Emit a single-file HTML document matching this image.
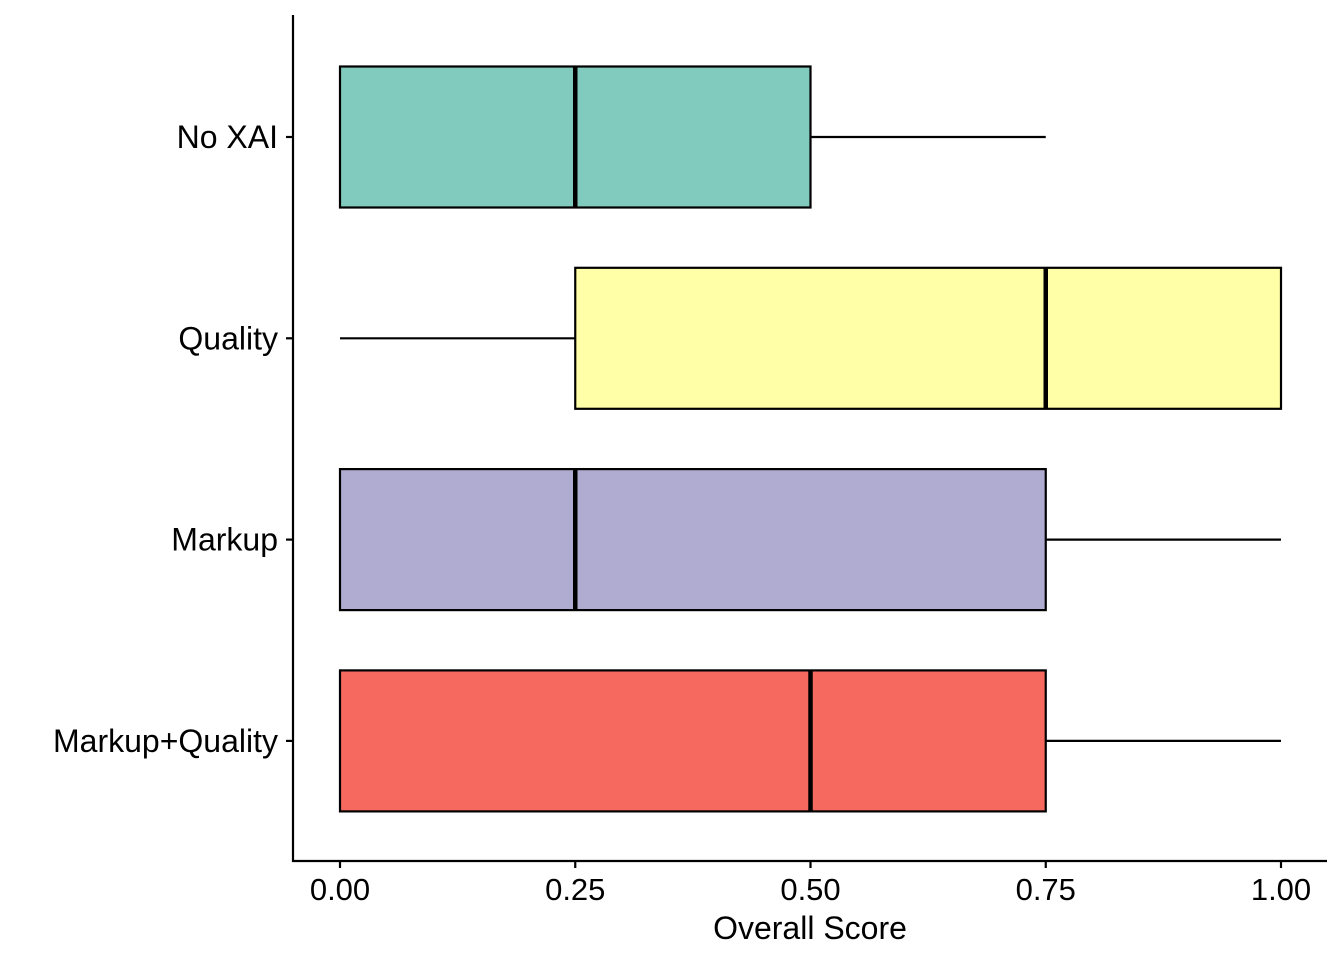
<!DOCTYPE html>
<html><head><meta charset="utf-8"><style>
html,body{margin:0;padding:0;background:#fff;}
svg text{font-family:"Liberation Sans",Arial,sans-serif;fill:#000;}
</style></head><body>
<svg id="chart" width="1344" height="960" xmlns="http://www.w3.org/2000/svg"></svg>
<script>
const categories = ["No XAI","Quality","Markup","Markup+Quality"];
const mins    = [0, 0, 0, 0];
const q1s     = [0, 0.25, 0, 0];
const medians = [0.25, 0.75, 0.25, 0.5];
const q3s     = [0.5, 1, 0.75, 0.75];
const maxs    = [0.75, 1, 1, 1];
const colors  = ["#80CBBD","#FFFFA7","#B0ACD1","#F6695F"];
const xTicks  = [0, 0.25, 0.5, 0.75, 1];
const xTickLabels = ["0.00","0.25","0.50","0.75","1.00"];

const NS="http://www.w3.org/2000/svg";
const svg=document.getElementById('chart');
const X0=340, X1=1281;
const xs=v=>X0+(X1-X0)*v;
const yTop=137, yStep=201.3;
const ys=i=>yTop+i*yStep;
const half=70.5;
function mk(tag,attrs,parent){const e=document.createElementNS(NS,tag);for(const k in attrs)e.setAttribute(k,attrs[k]);(parent||svg).appendChild(e);return e;}

const g=mk('g',{});


categories.forEach((c,i)=>{
  const y=ys(i);
  const grp=mk('g',{},g);
  
  
  mk('line',{x1:xs(mins[i]),x2:xs(q1s[i]),y1:y,y2:y,stroke:'#000','stroke-width':2.2},grp);
  mk('line',{x1:xs(q3s[i]),x2:xs(maxs[i]),y1:y,y2:y,stroke:'#000','stroke-width':2.2},grp);
  mk('rect',{x:xs(q1s[i]),y:y-half,width:xs(q3s[i])-xs(q1s[i]),height:2*half,fill:colors[i],stroke:'#000','stroke-width':2.2},grp);
  mk('line',{x1:xs(medians[i]),x2:xs(medians[i]),y1:y-half,y2:y+half,stroke:'#000','stroke-width':4.5},grp);
  mk('line',{x1:286,x2:293,y1:y,y2:y,stroke:'#000','stroke-width':2.2});
  const t=mk('text',{x:278,y:y+11,'text-anchor':'end','font-size':32});
  t.textContent=c;
  
  
});
const ya=mk('line',{x1:293,x2:293,y1:15,y2:862,stroke:'#000','stroke-width':2.2});


const xa=mk('line',{x1:292,x2:1327,y1:861,y2:861,stroke:'#000','stroke-width':2.2});


xTicks.forEach((v,i)=>{
  mk('line',{x1:xs(v),x2:xs(v),y1:861,y2:868,stroke:'#000','stroke-width':2.2});
  const t=mk('text',{x:xs(v),y:900,'text-anchor':'middle','font-size':31});
  t.textContent=xTickLabels[i];
  
  
});
const xt=mk('text',{x:810,y:939,'text-anchor':'middle','font-size':32});
xt.textContent='Overall Score';


</script>
</body></html>
